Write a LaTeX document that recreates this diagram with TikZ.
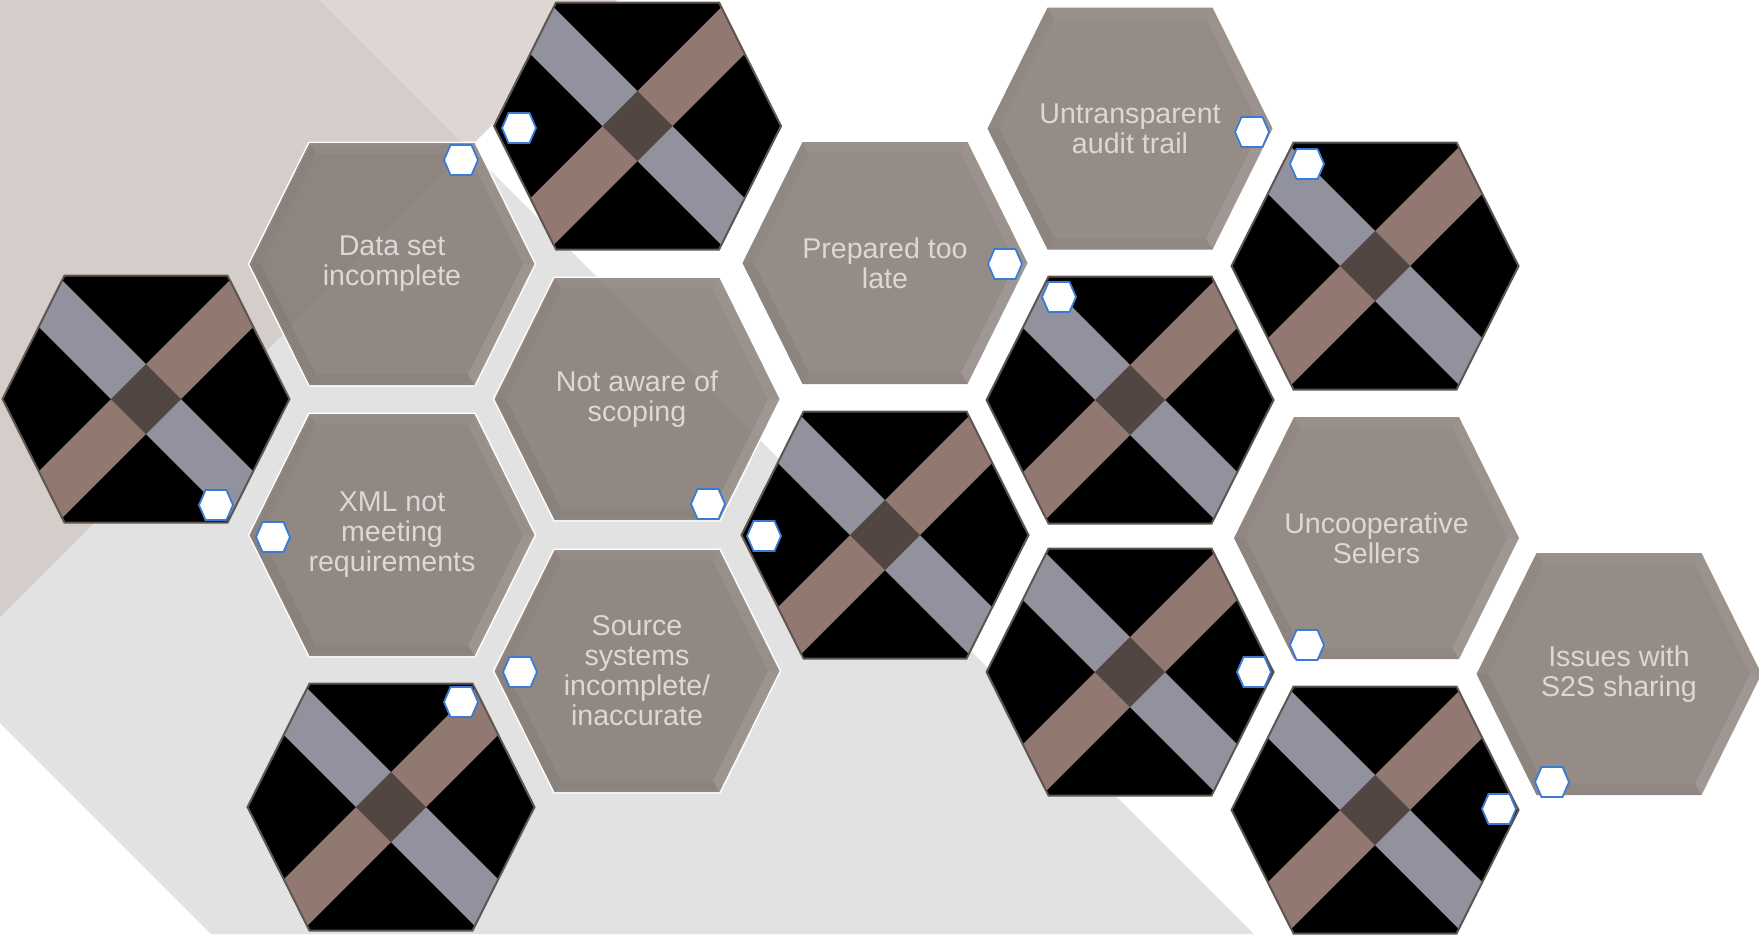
\documentclass[tikz,border=0pt]{standalone}
\usepackage{fontspec}
\setmainfont{Liberation Sans}
\definecolor{bgdark}{HTML}{D5CDCA}
\definecolor{bglight}{HTML}{DED6D2}
\definecolor{bggray}{HTML}{E2E2E2}
\definecolor{hexfill}{HTML}{837973}
\definecolor{hextext}{HTML}{DCD8D5}
\definecolor{bandgray}{HTML}{92929E}
\definecolor{bandbrown}{HTML}{917870}
\definecolor{bandmid}{HTML}{524642}
\definecolor{picedge}{HTML}{5E5550}
\definecolor{markblue}{HTML}{3A7BD5}
\newcommand{\hxp}[5]{({#1-#3},{#2}) -- ({#1-#3+#5},{#2-#4}) -- ({#1+#3-#5},{#2-#4}) -- ({#1+#3},{#2}) -- ({#1+#3-#5},{#2+#4}) -- ({#1-#3+#5},{#2+#4}) -- cycle}
\tikzset{
  hexlabel/.style={text=hextext, align=center, font=\fontsize{14.3}{15}\selectfont, inner sep=0pt},
  markstyle/.style={fill=white, draw=markblue, line width=0.9pt},
  picborder/.style={draw=picedge, line width=1pt},
}
\newcommand{\pichex}[3]{%
  \coordinate (#1) at (#2,#3);
  \begin{scope}[shift={(#2,#3)}]
    \begin{scope}
      \clip \hxp{0}{0}{143.5}{123.5}{62};
      \fill[black] (-150,-130) rectangle (150,130);
      \fill[bandgray] (-182.5,-217.5) -- (217.5,182.5) -- (182.5,217.5) -- (-217.5,-182.5) -- cycle;
      \fill[bandbrown] (217.5,-182.5) -- (182.5,-217.5) -- (-217.5,182.5) -- (-182.5,217.5) -- cycle;
      \fill[bandmid] (0,-35) -- (35,0) -- (0,35) -- (-35,0) -- cycle;
    \end{scope}
    \draw[picborder] \hxp{0}{0}{143.5}{123.5}{62};
  \end{scope}}
\newcommand{\txthex}[4]{%
  \begin{scope}[shift={(#2,#3)}]
    \draw[white, line width=1.5pt] \hxp{0}{0}{142.5}{121}{60};
    \fill[hexfill, fill opacity=0.85] \hxp{0}{0}{142.5}{121}{60};
    \fill[white, fill opacity=0.04] (-82.5,-121) -- (82.5,-121) -- (76,-110) -- (-76,-110) -- cycle;
    \fill[white, fill opacity=0.06] (82.5,-121) -- (142.5,0) -- (131,0) -- (76,-110) -- cycle;
    \fill[white, fill opacity=0.10] (142.5,0) -- (82.5,121) -- (76,110) -- (131,0) -- cycle;
    \fill[black, fill opacity=0.03] (82.5,121) -- (-82.5,121) -- (-76,110) -- (76,110) -- cycle;
    \fill[black, fill opacity=0.05] (-82.5,121) -- (-142.5,0) -- (-131,0) -- (-76,110) -- cycle;
    \fill[black, fill opacity=0.025] (-142.5,0) -- (-82.5,-121) -- (-76,-110) -- (-131,0) -- cycle;
    \node[hexlabel] (#1) at (0,0) {#4};
  \end{scope}}
\newcommand{\marker}[3]{%
  \coordinate (#1) at (#2,#3);
  \draw[markstyle] \hxp{#2}{#3}{17}{15}{6.5};}
\begin{document}
\begin{tikzpicture}[x=0.5pt, y=-0.5pt]
\useasboundingbox (0,0) rectangle (1759,934);
\clip (0,0) rectangle (1759,934);
% background
\fill[white] (0,0) rectangle (1759,934);
\fill[bggray] (0,0) -- (320,0) -- (1254,934) -- (211,934) -- (0,723) -- cycle;
\fill[bgdark] (0,0) -- (320,0) -- (468.5,148.5) -- (0,617) -- cycle;
\fill[bglight] (320,0) -- (617,0) -- (468.5,148.5) -- cycle;
% picture hexagons
\pichex{p1}{146}{399}
\pichex{p2}{637.5}{126}
\pichex{p3}{391}{807}
\pichex{p4}{885}{535}
\pichex{p5}{1130}{400}
\pichex{p6}{1375}{266}
\pichex{p7}{1130}{672}
\pichex{p8}{1375}{810}
% text hexagons
\txthex{t1}{392}{264}{Data set\\incomplete}
\txthex{t2}{637}{399}{Not aware of\\scoping}
\txthex{t3}{392}{535}{XML not\\meeting\\requirements}
\txthex{t4}{637}{671}{Source\\systems\\incomplete/\\inaccurate}
\txthex{t5}{885}{263}{Prepared too\\late}
\txthex{t6}{1130}{128.5}{Untransparent\\audit trail}
\txthex{t7}{1376.5}{538}{Uncooperative\\Sellers}
\txthex{t8}{1619}{674}{Issues with\\S2S sharing}
% markers
\marker{m1}{519}{128}
\marker{m2}{461}{160}
\marker{m3}{216}{505}
\marker{m4}{273}{537}
\marker{m5}{708}{504}
\marker{m6}{764}{536}
\marker{m7}{520}{672}
\marker{m8}{461}{702}
\marker{m9}{1005}{264}
\marker{m10}{1059}{297}
\marker{m11}{1252}{132}
\marker{m12}{1307}{164}
\marker{m13}{1307}{645}
\marker{m14}{1254}{672}
\marker{m15}{1552}{782}
\marker{m16}{1499}{809}
\end{tikzpicture}
\end{document}
